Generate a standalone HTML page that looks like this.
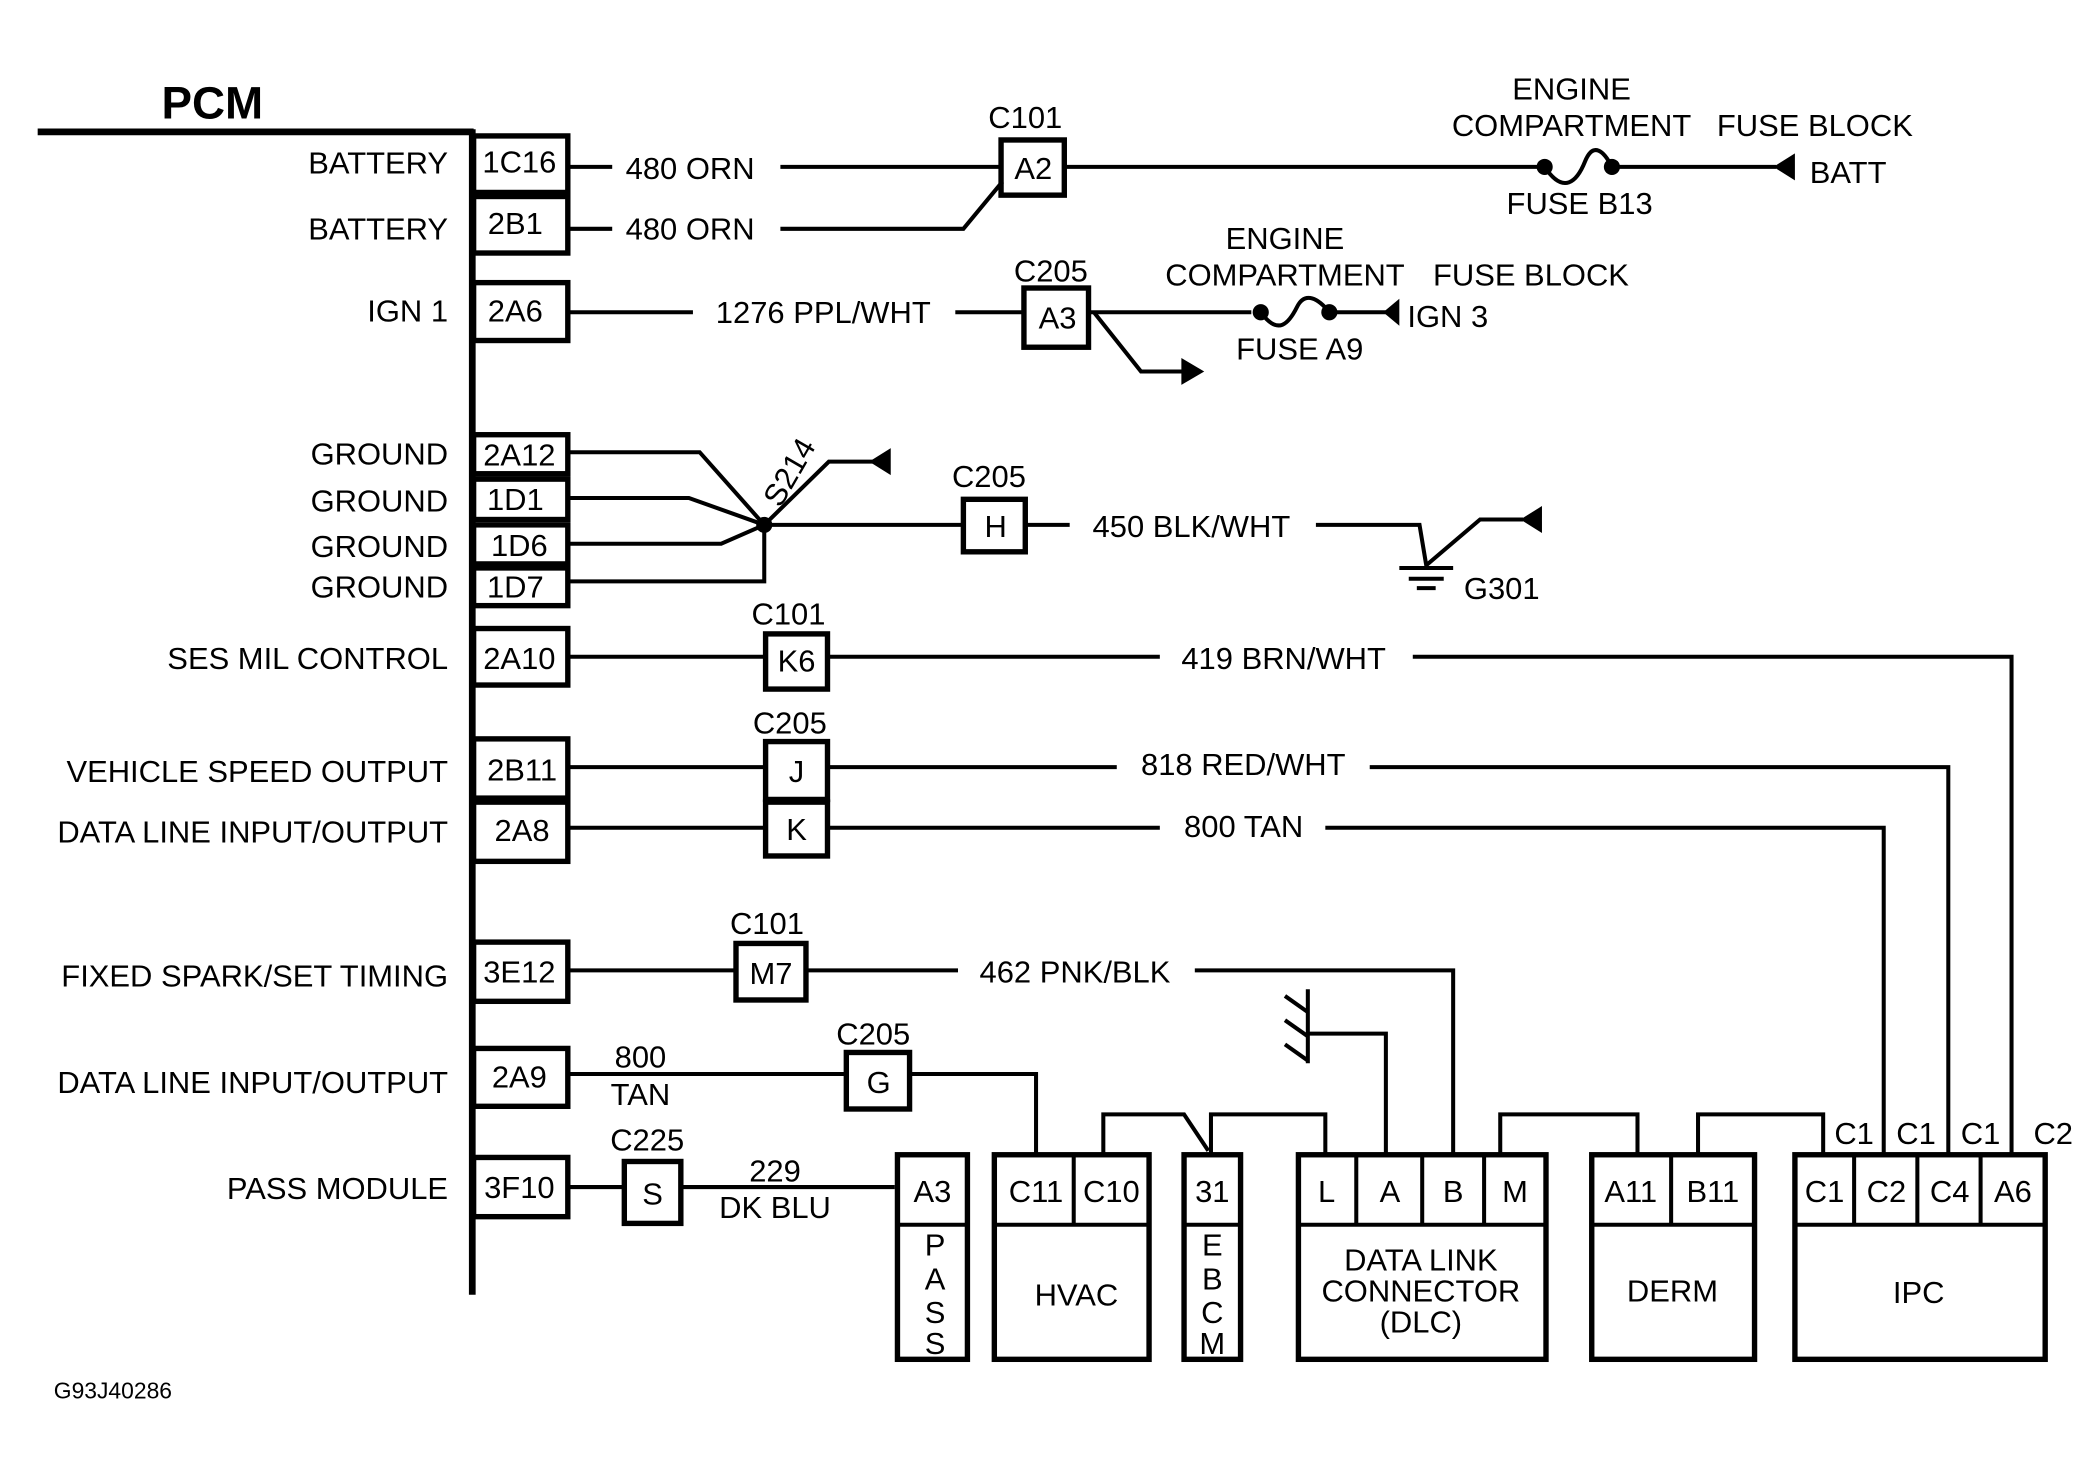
<!DOCTYPE html>
<html><head><meta charset="utf-8"><style>
html,body{margin:0;padding:0;background:#fff}
svg{display:block}
text{font-family:"Liberation Sans",sans-serif;font-size:23px;fill:#000}
</style></head><body>
<svg width="2099" height="1467" viewBox="0 0 1560 1090" preserveAspectRatio="none" xmlns="http://www.w3.org/2000/svg">
<g fill="none" stroke="#000" stroke-width="3">
<line x1="28" y1="98" x2="352" y2="98" stroke-width="5"/>
<line x1="351" y1="96" x2="351" y2="962" stroke-width="5"/>
<rect x="352" y="101" width="70" height="42" stroke-width="4"/>
<rect x="352" y="146" width="70" height="42" stroke-width="4"/>
<rect x="352" y="210" width="70" height="43" stroke-width="4"/>
<rect x="352" y="323" width="70" height="29" stroke-width="4"/>
<rect x="352" y="356" width="70" height="30" stroke-width="4"/>
<rect x="352" y="390" width="70" height="29" stroke-width="4"/>
<rect x="352" y="422" width="70" height="28" stroke-width="4"/>
<rect x="352" y="467" width="70" height="42" stroke-width="4"/>
<rect x="352" y="549" width="70" height="44" stroke-width="4"/>
<rect x="352" y="596" width="70" height="44" stroke-width="4"/>
<rect x="352" y="700" width="70" height="44" stroke-width="4"/>
<rect x="352" y="779" width="70" height="43" stroke-width="4"/>
<rect x="352" y="860" width="70" height="44" stroke-width="4"/>
<polyline points="424,124 455,124"/>
<polyline points="580,124 745,124"/>
<rect x="744" y="104" width="47" height="41" stroke-width="4"/>
<polyline points="791,124 1145,124"/>
<path d="M1148,124 C1162,145 1172,135 1178,120 C1184,105 1192,112 1198,124"/>
<polyline points="1198,124 1320,124"/>
<polyline points="424,170 455,170"/>
<polyline points="580,170 716,170 745,135"/>
<polyline points="424,232 515,232"/>
<polyline points="710,232 760,232"/>
<rect x="761" y="214" width="48" height="44" stroke-width="4"/>
<polyline points="809,232 930,232"/>
<path d="M937,232 C950,250 958,240 964,228 C970,216 980,222 988,232"/>
<polyline points="988,232 1030,232"/>
<polyline points="813,232 848,276 880,276"/>
<polyline points="424,336 520,336 568,390"/>
<polyline points="424,370 512,370 568,390"/>
<polyline points="424,404 536,404 568,390"/>
<polyline points="424,432 568,432 568,390"/>
<polyline points="568,390 616,343 650,343"/>
<polyline points="568,390 715,390"/>
<rect x="716" y="371" width="46" height="39" stroke-width="4"/>
<polyline points="762,390 795,390"/>
<polyline points="978,390 1055,390 1060,420 1100,386 1132,386"/>
<line x1="1040" y1="422" x2="1080" y2="422"/>
<line x1="1047" y1="430" x2="1073" y2="430"/>
<line x1="1053" y1="437" x2="1067" y2="437"/>
<polyline points="424,488 568,488"/>
<rect x="569" y="471" width="46" height="41" stroke-width="4"/>
<polyline points="615,488 862,488"/>
<polyline points="1050,488 1495,488 1495,857"/>
<polyline points="424,570 568,570"/>
<rect x="569" y="551" width="46" height="43" stroke-width="4"/>
<rect x="569" y="596" width="46" height="40" stroke-width="4"/>
<polyline points="615,570 830,570"/>
<polyline points="1018,570 1448,570 1448,857"/>
<polyline points="424,615 568,615"/>
<polyline points="615,615 862,615"/>
<polyline points="985,615 1400,615 1400,857"/>
<polyline points="424,721 546,721"/>
<rect x="547" y="701" width="52" height="42" stroke-width="4"/>
<polyline points="599,721 712,721"/>
<polyline points="888,721 1080,721 1080,857"/>
<polyline points="955,740 972,752"/>
<polyline points="955,758 972,770"/>
<polyline points="955,776 972,788"/>
<polyline points="972,735 972,790"/>
<polyline points="972,768 1030,768 1030,857"/>
<polyline points="424,798 628,798"/>
<rect x="629" y="782" width="47" height="42" stroke-width="4"/>
<polyline points="676,798 770,798 770,857"/>
<polyline points="424,882 463,882"/>
<rect x="464" y="863" width="42" height="46" stroke-width="4"/>
<polyline points="506,882 665,882"/>
<polyline points="820,857 820,828 880,828 898,855"/>
<polyline points="900,857 900,828 985,828 985,857"/>
<polyline points="1115,857 1115,828 1217,828 1217,857"/>
<polyline points="1262,857 1262,828 1355,828 1355,857"/>
<rect x="667" y="858" width="52" height="152" stroke-width="4"/>
<line x1="667" y1="910" x2="719" y2="910"/>
<rect x="739" y="858" width="115" height="152" stroke-width="4"/>
<line x1="739" y1="910" x2="854" y2="910"/>
<line x1="798" y1="858" x2="798" y2="910"/>
<rect x="880" y="858" width="42" height="152" stroke-width="4"/>
<line x1="880" y1="910" x2="922" y2="910"/>
<rect x="965" y="858" width="184" height="152" stroke-width="4"/>
<line x1="965" y1="910" x2="1149" y2="910"/>
<line x1="1008" y1="858" x2="1008" y2="910"/>
<line x1="1057" y1="858" x2="1057" y2="910"/>
<line x1="1103" y1="858" x2="1103" y2="910"/>
<rect x="1183" y="858" width="121" height="152" stroke-width="4"/>
<line x1="1183" y1="910" x2="1304" y2="910"/>
<line x1="1242" y1="858" x2="1242" y2="910"/>
<rect x="1334" y="858" width="186" height="152" stroke-width="4"/>
<line x1="1334" y1="910" x2="1520" y2="910"/>
<line x1="1378" y1="858" x2="1378" y2="910"/>
<line x1="1425" y1="858" x2="1425" y2="910"/>
<line x1="1472" y1="858" x2="1472" y2="910"/>
</g>
<g fill="#000">
<circle cx="1148" cy="124" r="6"/><circle cx="1198" cy="124" r="6"/>
<circle cx="937" cy="232" r="6"/><circle cx="988" cy="232" r="6"/>
<circle cx="568" cy="390" r="6"/>
<polygon points="1318,124 1334,114 1334,134"/>
<polygon points="1028,232 1040,222 1040,242"/>
<polygon points="895,276 878,266 878,286"/>
<polygon points="646,343 662,333 662,353"/>
<polygon points="1130,386 1146,376 1146,396"/>
</g>
<text x="120" y="88" style="font-size:34px;font-weight:bold">PCM</text>
<g text-anchor="end">
<text x="333" y="129">BATTERY</text>
<text x="333" y="178">BATTERY</text>
<text x="333" y="239">IGN 1</text>
<text x="333" y="345">GROUND</text>
<text x="333" y="380">GROUND</text>
<text x="333" y="414">GROUND</text>
<text x="333" y="444">GROUND</text>
<text x="333" y="497">SES MIL CONTROL</text>
<text x="333" y="581">VEHICLE SPEED OUTPUT</text>
<text x="333" y="626">DATA LINE INPUT/OUTPUT</text>
<text x="333" y="733">FIXED SPARK/SET TIMING</text>
<text x="333" y="812">DATA LINE INPUT/OUTPUT</text>
<text x="333" y="891">PASS MODULE</text>
</g>
<g text-anchor="middle">
<text x="386" y="128">1C16</text>
<text x="383" y="174">2B1</text>
<text x="383" y="239">2A6</text>
<text x="386" y="346">2A12</text>
<text x="383" y="379">1D1</text>
<text x="386" y="413">1D6</text>
<text x="383" y="444">1D7</text>
<text x="386" y="497">2A10</text>
<text x="388" y="580">2B11</text>
<text x="388" y="625">2A8</text>
<text x="386" y="730">3E12</text>
<text x="386" y="808">2A9</text>
<text x="386" y="890">3F10</text>
<text x="768" y="133">A2</text>
<text x="786" y="244">A3</text>
<text x="740" y="399">H</text>
<text x="592" y="499">K6</text>
<text x="592" y="581">J</text>
<text x="592" y="624">K</text>
<text x="573" y="731">M7</text>
<text x="653" y="812">G</text>
<text x="485" y="895">S</text>
<text x="762" y="95">C101</text>
<text x="781" y="209">C205</text>
<text x="735" y="362">C205</text>
<text x="586" y="464">C101</text>
<text x="587" y="545">C205</text>
<text x="570" y="694">C101</text>
<text x="649" y="776">C205</text>
<text x="481" y="855">C225</text>
<text x="476" y="793">800</text>
<text x="476" y="821">TAN</text>
<text x="576" y="878">229</text>
<text x="576" y="905">DK BLU</text>
<text x="1168" y="74">ENGINE</text>
<text x="1168" y="101">COMPARTMENT</text>
<text x="1174" y="159">FUSE B13</text>
<text x="955" y="185">ENGINE</text>
<text x="955" y="212">COMPARTMENT</text>
<text x="966" y="267">FUSE A9</text>
<text x="693" y="893">A3</text>
<text x="695" y="933">P</text>
<text x="695" y="958">A</text>
<text x="695" y="983">S</text>
<text x="695" y="1006">S</text>
<text x="770" y="893">C11</text>
<text x="826" y="893">C10</text>
<text x="800" y="970">HVAC</text>
<text x="901" y="893">31</text>
<text x="901" y="933">E</text>
<text x="901" y="958">B</text>
<text x="901" y="983">C</text>
<text x="901" y="1006">M</text>
<text x="986" y="893">L</text>
<text x="1033" y="893">A</text>
<text x="1080" y="893">B</text>
<text x="1126" y="893">M</text>
<text x="1056" y="944">DATA LINK</text>
<text x="1056" y="967">CONNECTOR</text>
<text x="1056" y="990">(DLC)</text>
<text x="1212" y="893">A11</text>
<text x="1273" y="893">B11</text>
<text x="1243" y="967">DERM</text>
<text x="1356" y="893">C1</text>
<text x="1402" y="893">C2</text>
<text x="1449" y="893">C4</text>
<text x="1496" y="893">A6</text>
<text x="1426" y="968">IPC</text>
<text x="1378" y="850">C1</text>
<text x="1424" y="850">C1</text>
<text x="1472" y="850">C1</text>
<text x="1526" y="850">C2</text>
</g>
<text x="1276" y="101">FUSE BLOCK</text>
<text x="1345" y="136">BATT</text>
<text x="1065" y="212">FUSE BLOCK</text>
<text x="1046" y="243">IGN 3</text>
<text x="465" y="133">480 ORN</text>
<text x="465" y="178">480 ORN</text>
<text x="532" y="240">1276 PPL/WHT</text>
<text x="812" y="399">450 BLK/WHT</text>
<text x="1088" y="445">G301</text>
<text x="878" y="497">419 BRN/WHT</text>
<text x="848" y="576">818 RED/WHT</text>
<text x="880" y="622">800 TAN</text>
<text x="728" y="730">462 PNK/BLK</text>
<text x="0" y="0" transform="translate(580,378) rotate(-60)">S214</text>
<text x="40" y="1039" style="font-size:17px">G93J40286</text>
</svg>
</body></html>
